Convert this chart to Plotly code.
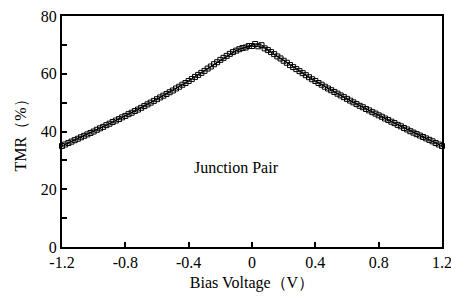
import plotly.graph_objects as go

# Data
bias_a = [round(-1.2 + 0.04 * i, 2) for i in range(61)]
tmr_a = [35.0, 36.0, 37.0, 38.0, 39.0, 40.0, 41.1, 42.2, 43.3, 44.3,
         45.4, 46.5, 47.6, 48.8, 50.0, 51.2, 52.4, 53.6, 54.9, 56.2,
         57.5, 58.9, 60.3, 61.8, 63.3, 64.8, 66.2, 67.5, 68.5, 69.1,
         69.6, 69.5, 68.8, 67.5, 66.0, 64.5, 63.0, 61.6, 60.2, 58.8,
         57.5, 56.2, 54.9, 53.7, 52.5, 51.3, 50.1, 48.9, 47.8, 46.7,
         45.6, 44.5, 43.4, 42.3, 41.2, 40.1, 39.1, 38.1, 37.1, 36.0,
         35.0]
bias_b = [round(-1.18 + 0.04 * i, 2) for i in range(60)]
tmr_b = [35.5, 36.5, 37.5, 38.5, 39.5, 40.6, 41.6, 42.7, 43.8, 44.9,
         46.0, 47.1, 48.2, 49.4, 50.6, 51.8, 53.0, 54.2, 55.5, 56.8,
         58.2, 59.6, 61.0, 62.5, 64.0, 65.5, 66.9, 68.0, 68.9, 69.6,
         70.3, 69.9, 68.2, 66.8, 65.3, 63.8, 62.3, 60.9, 59.5, 58.1,
         56.8, 55.5, 54.3, 53.1, 51.9, 50.7, 49.5, 48.4, 47.3, 46.2,
         45.1, 44.0, 42.9, 41.8, 40.7, 39.6, 38.6, 37.6, 36.6, 35.5]

x_ticks = [-1.2, -0.8, -0.4, 0, 0.4, 0.8, 1.2]
x_tick_labels = ["-1.2", "-0.8", "-0.4", "0", "0.4", "0.8", "1.2"]
y_ticks = [0, 20, 40, 60, 80]

font_family = "Liberation Serif, Times New Roman, serif"

fig = go.Figure()
for xs, ys in [(bias_a, tmr_a), (bias_b, tmr_b)]:
    fig.add_trace(go.Scatter(
        x=xs, y=ys, mode="lines+markers",
        line=dict(color="black", width=1),
        marker=dict(symbol="square-open", size=5, color="black",
                    line=dict(width=1, color="black")),
        showlegend=False, hoverinfo="skip", cliponaxis=False,
    ))

fig.add_annotation(x=-0.1, y=27.5, text="Junction Pair", showarrow=False,
                   font=dict(family=font_family, size=16, color="black"))

fig.update_layout(
    width=451, height=302,
    margin=dict(l=62, r=9, t=16, b=55, autoexpand=False),
    paper_bgcolor="white", plot_bgcolor="white",
    font=dict(family=font_family, size=16, color="black"),
)
fig.update_xaxes(
    range=[-1.2, 1.2], tickvals=x_ticks, ticktext=x_tick_labels,
    ticks="inside", ticklen=5, tickwidth=1.5, tickcolor="black",
    ticklabeloverflow="allow",
    showline=True, linecolor="black", linewidth=2, mirror=True,
    showgrid=False, zeroline=False,
    title=dict(text="Bias Voltage（V）", standoff=7,
               font=dict(family=font_family, size=16, color="black")),
)
fig.update_yaxes(
    range=[0, 80], tickvals=y_ticks,
    ticks="inside", ticklen=5, tickwidth=1.5, tickcolor="black",
    ticklabeloverflow="allow",
    minor=dict(ticks="inside", ticklen=5, tickwidth=1.5, tickcolor="black", dtick=10, showgrid=False),
    showline=True, linecolor="black", linewidth=2, mirror=True,
    showgrid=False, zeroline=False,
    title=dict(text="TMR（%）", standoff=10,
               font=dict(family=font_family, size=16, color="black")),
)

fig.write_html("out.html", config={"displayModeBar": False},
               post_script="document.body.style.margin='0';")
